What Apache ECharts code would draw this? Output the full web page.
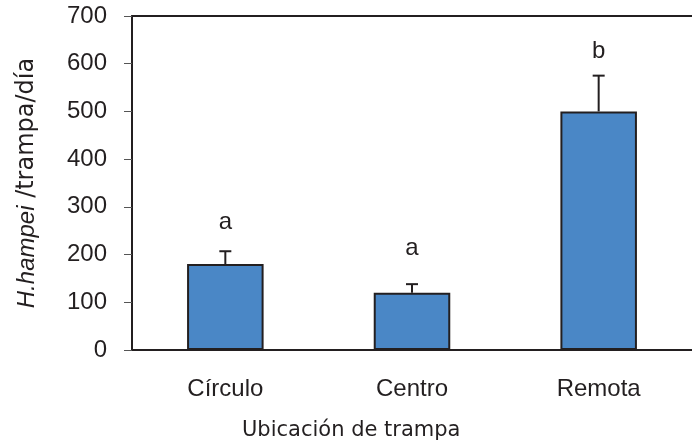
<!DOCTYPE html>
<html>
<head>
<meta charset="utf-8">
<script src="https://cdn.jsdelivr.net/npm/echarts@6/dist/echarts.min.js"></script>
<style>
  html, body { margin: 0; padding: 0; background: #fff; }
  #main { width: 692px; height: 444px; }
</style>
</head>
<body>
<div id="main"></div>
<script>
// datos
const categorias = ["Círculo", "Centro", "Remota"];
const medias = [180, 120, 500];
const errorSup = [207, 138, 575];
const letras = ["a", "a", "b"];
const letrasY = [268, 214, 625];
const ticksY = [0, 100, 200, 300, 400, 500, 600, 700];

const chart = echarts.init(document.getElementById("main"));

const colorBarra = "#4a87c6";
const colorLinea = "#231f20";

let option = {
  animation: false,
  grid: { left: 132, right: 0, top: 16, bottom: 94, outerBoundsMode: "none", containLabel: false },
  xAxis: [
    {
      type: "category",
      data: categorias,
      axisLine: { lineStyle: { color: colorLinea, width: 2 } },
      axisTick: { show: false },
      axisLabel: {
        margin: 27,
        fontFamily: "Liberation Sans",
        fontSize: 24,
        color: "#231f20"
      }
    },
    {
      // línea superior del marco
      type: "category",
      position: "top",
      data: categorias,
      axisLine: { lineStyle: { color: colorLinea, width: 2 } },
      axisTick: { show: false },
      axisLabel: { show: false }
    }
  ],
  yAxis: {
    type: "value",
    min: ticksY[0],
    max: ticksY[ticksY.length - 1],
    interval: 100,
    axisLine: { show: true, lineStyle: { color: colorLinea, width: 2 } },
    axisTick: { show: true, length: 8, lineStyle: { color: "#555", width: 1 } },
    splitLine: { show: false },
    axisLabel: {
      margin: 25,
      fontFamily: "Liberation Sans",
      fontSize: 24,
      color: "#231f20"
    },
    name: "{i|H.hampei}{n| /trampa/día}",
    nameLocation: "middle",
    nameRotate: 90,
    nameGap: 93,
    nameTextStyle: {
      rich: {
        i: { fontFamily: "Liberation Sans", fontStyle: "italic", fontSize: 24, color: "#231f20" },
        n: { fontFamily: "DejaVu Sans", fontSize: 24, color: "#231f20" }
      }
    }
  },
  graphic: [
    {
      type: "text",
      left: 242,
      top: 420,
      style: {
        text: "Ubicación de trampa",
        fontFamily: "DejaVu Sans",
        fontSize: 21,
        fill: "#231f20"
      }
    }
  ],
  series: [
    {
      type: "bar",
      data: medias,
      barWidth: "41%",
      itemStyle: { color: colorBarra, borderColor: colorLinea, borderWidth: 2 },
      z: 2
    },
    {
      type: "custom",
      data: medias.map((m, i) => [i, m, errorSup[i]]),
      renderItem: function (params, api) {
        const base = api.coord([api.value(0), api.value(1)]);
        const top = api.coord([api.value(0), api.value(2)]);
        const cap = 6;
        return {
          type: "group",
          children: [
            {
              type: "line",
              shape: { x1: base[0], y1: base[1], x2: top[0], y2: top[1] },
              style: { stroke: colorLinea, lineWidth: 2 }
            },
            {
              type: "line",
              shape: { x1: top[0] - cap, y1: top[1], x2: top[0] + cap, y2: top[1] },
              style: { stroke: colorLinea, lineWidth: 2 }
            }
          ]
        };
      },
      z: 3
    },
    {
      type: "scatter",
      symbolSize: 0,
      itemStyle: { opacity: 1 },
      data: letrasY.map((y, i) => [i, y]),
      label: {
        show: true,
        position: "inside",
        formatter: p => letras[p.dataIndex],
        fontFamily: "Liberation Sans",
        fontSize: 24,
        color: "#231f20"
      }
    }
  ]
};

chart.setOption(option);
</script>
</body>
</html>
